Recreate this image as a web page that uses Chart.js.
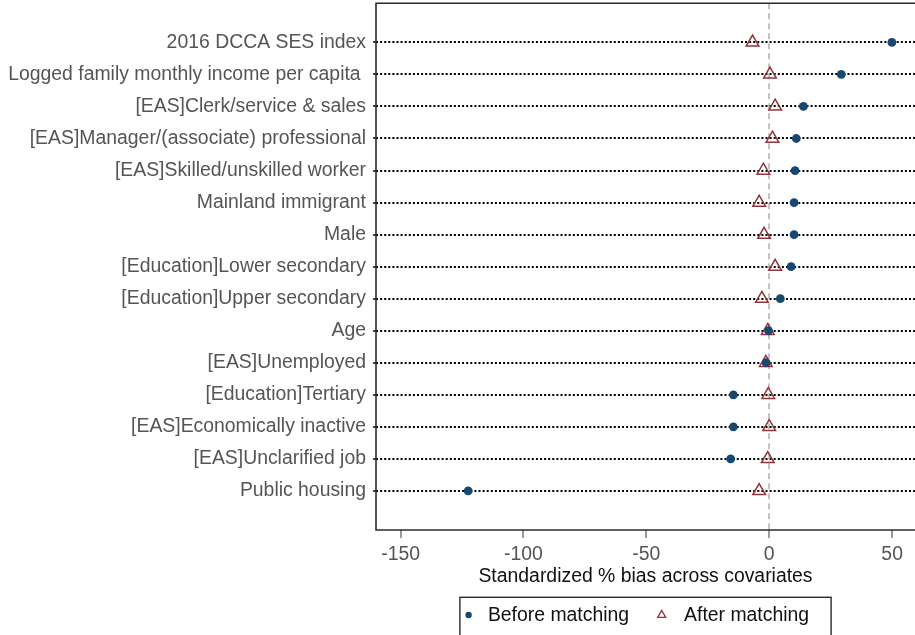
<!DOCTYPE html>
<html>
<head>
<meta charset="utf-8">
<script src="https://cdn.jsdelivr.net/npm/chart.js@4/dist/chart.umd.min.js"></script>
<style>
  html, body { margin: 0; padding: 0; background: #fff; }
  #wrap { width: 915px; height: 635px; position: relative; }
</style>
</head>
<body>
<div id="wrap"><canvas id="c"></canvas></div>
<script>
// Covariates, top to bottom
const categories = [
  "2016 DCCA SES index",
  "Logged family monthly income per capita ",
  "[EAS]Clerk/service & sales",
  "[EAS]Manager/(associate) professional",
  "[EAS]Skilled/unskilled worker",
  "Mainland immigrant",
  "Male",
  "[Education]Lower secondary",
  "[Education]Upper secondary",
  "Age",
  "[EAS]Unemployed",
  "[Education]Tertiary",
  "[EAS]Economically inactive",
  "[EAS]Unclarified job",
  "Public housing"
];

// Standardized % bias per covariate
const beforeMatching = [49.9, 29.3, 13.9, 11.0, 10.5, 10.1, 10.1, 8.9, 4.5, -0.3, -1.3, -14.6, -14.6, -15.7, -122.5];
const afterMatching  = [-6.8, 0.3, 2.4, 1.3, -2.4, -4.1, -2.1, 2.4, -3.0, -0.6, -1.4, -0.4, 0.0, -0.6, -4.1];

const xTicks = [-150, -100, -50, 0, 50];
const seriesNames = ["Before matching", "After matching"];

const FONT = '"Liberation Sans", Arial, Helvetica, sans-serif';
const FSIZE = 19.4;
const NAVY = '#1a476f';
const MAROON = '#90353b';

const toPoints = arr => arr.map((v, i) => ({ x: v, y: i }));

// Frame around the plot region (left, top, bottom)
const framePlugin = {
  id: 'frame',
  beforeDatasetsDraw(chart) {
    const { ctx, chartArea: a } = chart;
    ctx.save();
    ctx.strokeStyle = '#2b2b2b';
    ctx.lineWidth = 1.6;
    ctx.beginPath();
    ctx.moveTo(a.right + 2, a.top);
    ctx.lineTo(a.left, a.top);
    ctx.lineTo(a.left, a.bottom);
    ctx.lineTo(a.right + 2, a.bottom);
    ctx.stroke();
    ctx.restore();
  }
};

// Boxed legend centred under the plot region
const boxedLegend = {
  id: 'boxedLegend',
  afterDraw(chart) {
    const { ctx, chartArea: a } = chart;
    ctx.save();
    ctx.font = FSIZE + 'px ' + FONT;
    const w1 = ctx.measureText(seriesNames[0]).width;
    const w2 = ctx.measureText(seriesNames[1]).width;
    const total = 8.7 + 19.3 + w1 + 32.6 + 22.4 + w2 + 22;
    const left = (a.left + a.right) / 2 - total / 2;
    const top = 597.3;
    const midY = 615;

    ctx.strokeStyle = '#2b2b2b';
    ctx.lineWidth = 1.4;
    ctx.strokeRect(left, top, total, 60);

    // dot marker
    const dx = left + 8.7;
    ctx.fillStyle = NAVY;
    ctx.beginPath();
    ctx.arc(dx, midY, 3.2, 0, Math.PI * 2);
    ctx.fill();

    ctx.fillStyle = '#111';
    ctx.textBaseline = 'alphabetic';
    ctx.textAlign = 'left';
    const t1 = dx + 19.3;
    ctx.fillText(seriesNames[0], t1, 621);

    // triangle marker
    const tx = t1 + w1 + 32.6;
    const r = 4.6;
    ctx.strokeStyle = MAROON;
    ctx.lineWidth = 1.3;
    ctx.beginPath();
    ctx.moveTo(tx, midY - r);
    ctx.lineTo(tx + r * 0.866, midY + r / 2);
    ctx.lineTo(tx - r * 0.866, midY + r / 2);
    ctx.closePath();
    ctx.stroke();

    ctx.fillStyle = '#111';
    ctx.fillText(seriesNames[1], tx + 22.4, 621);
    ctx.restore();
  }
};

new Chart(document.getElementById('c'), {
  type: 'scatter',
  data: {
    datasets: [
      {
        label: seriesNames[0],
        data: toPoints(beforeMatching),
        pointStyle: 'circle',
        pointRadius: 4.4,
        pointBackgroundColor: NAVY,
        pointBorderColor: NAVY,
        pointBorderWidth: 0
      },
      {
        label: seriesNames[1],
        data: toPoints(afterMatching),
        pointStyle: 'triangle',
        pointRadius: 7.3,
        pointBackgroundColor: 'rgba(255,255,255,0)',
        pointBorderColor: MAROON,
        pointBorderWidth: 1.5
      }
    ]
  },
  options: {
    responsive: true,
    maintainAspectRatio: false,
    animation: false,
    events: [],
    layout: { autoPadding: false, padding: { left: 0, right: 0, top: 3.3, bottom: 46.6 } },
    plugins: {
      legend: { display: false },
      tooltip: { enabled: false }
    },
    scales: {
      x: {
        type: 'linear',
        min: -160,
        max: 59.3,
        afterBuildTicks: s => { s.ticks = xTicks.map(v => ({ value: v })); },
        afterFit: s => { s.height = 58.4; s.paddingLeft = 0; s.paddingRight = 0; },
        grid: {
          color: c => (c.tick && c.tick.value === 0 ? '#c3c3c3' : 'rgba(0,0,0,0)'),
          lineWidth: 2,
          tickColor: '#9a9a9a',
          tickLength: 8,
          tickWidth: 2,
          tickBorderDash: []
        },
        border: { display: false, dash: [6, 4] },
        ticks: {
          color: '#555',
          font: { family: FONT, size: FSIZE },
          padding: 5,
          maxRotation: 0
        },
        title: {
          display: true,
          text: 'Standardized % bias across covariates',
          color: '#111',
          font: { family: FONT, size: FSIZE },
          padding: 0
        }
      },
      y: {
        type: 'linear',
        reverse: true,
        min: -1.22,
        max: 15.22,
        afterBuildTicks: s => { s.ticks = categories.map((_, i) => ({ value: i })); },
        afterFit: s => { s.width = 376; s.paddingTop = 0; s.paddingBottom = 0; },
        grid: {
          color: '#000',
          lineWidth: 2,
          tickColor: '#000',
          tickLength: 3,
          tickWidth: 1.5,
          tickBorderDash: []
        },
        border: { display: false, dash: [2, 2.1] },
        ticks: {
          color: '#555',
          font: { family: FONT, size: FSIZE },
          padding: 7,
          callback: v => categories[v]
        }
      }
    }
  },
  plugins: [framePlugin, boxedLegend]
});
</script>
</body>
</html>
